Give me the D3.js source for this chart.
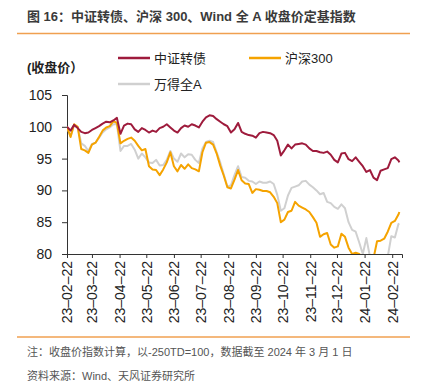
<!DOCTYPE html>
<html>
<head>
<meta charset="utf-8">
<script src="https://cdn.jsdelivr.net/npm/d3@7"></script>
<style>
  body { margin: 0; background: #fff; }
  svg { display: block; font-family: "Liberation Sans", Arial, "Noto Sans CJK SC", sans-serif; }
</style>
</head>
<body>
<svg id="chart" width="427" height="384"></svg>
<script>
// sample dates (every 4 days)
const dates = [
  "2023-02-22","2023-02-26","2023-03-02","2023-03-06","2023-03-10","2023-03-14","2023-03-18","2023-03-22",
  "2023-03-26","2023-03-30","2023-04-03","2023-04-07","2023-04-11","2023-04-15","2023-04-19","2023-04-23",
  "2023-04-27","2023-05-01","2023-05-05","2023-05-09","2023-05-13","2023-05-17","2023-05-21","2023-05-25",
  "2023-05-29","2023-06-02","2023-06-06","2023-06-10","2023-06-14","2023-06-18","2023-06-22","2023-06-26",
  "2023-06-30","2023-07-04","2023-07-08","2023-07-12","2023-07-16","2023-07-20","2023-07-24","2023-07-28",
  "2023-08-01","2023-08-05","2023-08-09","2023-08-13","2023-08-17","2023-08-21","2023-08-25","2023-08-29",
  "2023-09-02","2023-09-06","2023-09-10","2023-09-14","2023-09-18","2023-09-22","2023-09-26","2023-09-30",
  "2023-10-04","2023-10-08","2023-10-12","2023-10-16","2023-10-20","2023-10-24","2023-10-28","2023-11-01",
  "2023-11-05","2023-11-09","2023-11-13","2023-11-17","2023-11-21","2023-11-25","2023-11-29","2023-12-03",
  "2023-12-07","2023-12-11","2023-12-15","2023-12-19","2023-12-23","2023-12-27","2023-12-31","2024-01-04",
  "2024-01-08","2024-01-12","2024-01-16","2024-01-20","2024-01-24","2024-01-28","2024-02-01","2024-02-05",
  "2024-02-09","2024-02-13","2024-02-17","2024-02-21","2024-02-25","2024-02-29","2024-03-01"
];

// 中证转债
const cbIndex = [
  100.0, 99.4, 100.3, 99.8, 99.2, 99.0, 99.1, 99.5, 99.8, 100.1, 100.5, 100.8, 100.7, 101.0, 101.4, 98.9,
  100.2, 100.5, 100.4, 99.6, 99.2, 99.8, 99.5, 99.1, 99.4, 99.2, 99.8, 100.0, 100.4, 99.9, 99.4, 99.1,
  99.8, 100.2, 100.0, 100.4, 100.2, 99.9, 100.8, 101.5, 101.8, 101.7, 101.2, 100.8, 100.4, 100.1, 99.1, 99.6,
  100.6, 99.2, 98.9, 98.7, 98.6, 98.3, 99.0, 99.2, 99.1, 99.0, 98.7, 97.8, 95.5, 96.3, 97.2, 96.6,
  97.2, 97.3, 97.4, 97.2, 96.6, 96.2, 96.2, 96.0, 95.9, 96.1, 95.6, 94.8, 94.4, 95.8, 95.9, 94.9,
  94.6, 95.2, 94.5, 93.8, 92.9, 93.2, 92.0, 91.6, 93.1, 93.3, 93.5, 94.9, 95.2, 94.7, 94.4
];

// 沪深300
const hs300 = [
  100.0, 98.4, 100.4, 100.0, 96.5, 96.3, 95.9, 97.2, 97.5, 98.4, 99.4, 99.9, 100.1, 100.9, 100.6, 97.4,
  97.8, 98.1, 98.3, 97.8, 97.0, 96.3, 96.5, 93.8, 93.3, 93.2, 92.4, 93.3, 94.4, 96.0, 93.8, 93.0,
  94.0, 93.4, 94.1, 93.5, 93.3, 93.0, 96.0, 97.5, 97.6, 97.2, 95.8, 93.9, 92.3, 90.5, 90.3, 91.7,
  93.2, 91.6, 91.1, 91.0, 89.6, 90.2, 90.1, 89.9, 89.9, 89.7, 89.0, 88.0, 85.0, 85.4, 86.6, 86.8,
  88.2, 87.6, 87.3, 87.0, 86.6, 85.8, 84.9, 82.7, 83.1, 83.3, 81.5, 81.0, 81.2, 83.2, 82.7, 81.0,
  80.0, 80.2, 80.0, 79.4, 79.2, 79.0, 79.3, 82.0, 82.1, 82.4, 83.5, 84.9, 85.2, 86.2, 86.6
];

// 万得全A
const windA = [
  100.0, 98.5, 100.3, 99.9, 97.4, 97.0, 96.2, 97.3, 97.5, 98.3, 99.1, 99.6, 99.9, 100.4, 100.4, 96.2,
  97.0, 97.0, 97.3, 96.4, 95.0, 95.8, 95.2, 94.4, 94.3, 94.8, 93.9, 94.0, 94.8, 96.2, 95.0, 94.5,
  95.8, 95.2, 95.7, 95.6, 94.8, 94.3, 96.6, 97.6, 97.8, 97.6, 96.0, 94.4, 92.5, 90.6, 90.8, 92.4,
  93.8, 92.1, 92.0, 91.5, 91.4, 91.0, 91.4, 91.2, 91.2, 91.4, 91.0, 89.3, 86.8, 87.2, 89.2, 90.4,
  90.6, 90.8, 91.4, 91.5, 90.9, 90.5, 90.0, 89.4, 89.6, 88.2, 88.0, 87.4, 87.1, 87.8, 87.2, 85.0,
  83.8, 83.5, 81.8, 80.0, 82.5, 79.6, 79.4, 79.3, 79.2, 79.4, 79.6, 82.8, 82.6, 84.7, 84.8
];

const yTicks = [80, 85, 90, 95, 100, 105];
const xTickLabels = ["23-02-22","23-03-22","23-04-22","23-05-22","23-06-22","23-07-22","23-08-22",
  "23-09-22","23-10-22","23-11-22","23-12-22","24-01-22","24-02-22"];

const seriesNames = ["中证转债", "沪深300", "万得全A"];
const colors = ["#9e1b3c", "#f5a300", "#d0d0d0"];

const parse = d3.timeParse("%Y-%m-%d");
const parseTick = d3.timeParse("%y-%m-%d");

const svg = d3.select("#chart");

const plotLeft = 67, plotRight = 402, plotTop = 95, plotBottom = 254;

const x = d3.scaleTime()
  .domain([parse("2023-02-22"), parse("2024-03-04")])
  .range([plotLeft, plotRight]);

const y = d3.scaleLinear()
  .domain([80, 105])
  .range([plotBottom, plotTop]);

// title
svg.append("text")
  .attr("x", 27).attr("y", 21)
  .attr("font-size", 13).attr("font-weight", "bold").attr("fill", "#3a3a3a")
  .text("图 16：中证转债、沪深 300、Wind 全 A 收盘价定基指数");

svg.append("line")
  .attr("x1", 17).attr("x2", 410).attr("y1", 33.5).attr("y2", 33.5)
  .attr("stroke", "#f0a050").attr("stroke-width", 1.5);

// unit label
svg.append("text")
  .attr("x", 27).attr("y", 72)
  .attr("font-size", 13).attr("font-weight", "bold").attr("fill", "#222")
  .text("(收盘价）");

// legend
const legendPos = [[118, 58], [249, 58], [118, 84]];
seriesNames.forEach((name, i) => {
  const [lx, ly] = legendPos[i];
  svg.append("line")
    .attr("x1", lx).attr("x2", lx + 32).attr("y1", ly).attr("y2", ly)
    .attr("stroke", colors[i]).attr("stroke-width", 2.5);
  svg.append("text")
    .attr("x", lx + 36).attr("y", ly + 4.5)
    .attr("font-size", 13).attr("fill", "#222")
    .text(name);
});

// axes
const yAxis = svg.append("g")
  .attr("transform", `translate(${plotLeft},0)`)
  .call(d3.axisLeft(y).tickValues(yTicks).tickSize(5).tickPadding(10));

const xAxis = svg.append("g")
  .attr("transform", `translate(0,${plotBottom})`)
  .call(d3.axisBottom(x)
    .tickValues(xTickLabels.map(parseTick))
    .tickSize(4)
    .tickFormat((d, i) => xTickLabels[i].replace(/-/g, "–")));

[yAxis, xAxis].forEach(g => {
  g.select(".domain").attr("stroke", "#333");
  g.selectAll(".tick line").attr("stroke", "#333");
  g.selectAll("text").attr("font-size", 14).attr("fill", "#222")
    .attr("font-family", "'Liberation Sans', Arial, sans-serif");
});

xAxis.selectAll(".tick text")
  .attr("transform", "rotate(-90)")
  .attr("text-anchor", "end")
  .attr("x", -7).attr("y", 0).attr("dy", "0.35em");

// lines
svg.append("clipPath").attr("id", "plot")
  .append("rect").attr("x", plotLeft).attr("y", plotTop - 10)
  .attr("width", plotRight - plotLeft + 2).attr("height", plotBottom - plotTop + 10);

const line = d3.line()
  .x((d, i) => x(parse(dates[i])))
  .y(d => y(d));

const plot = svg.append("g").attr("clip-path", "url(#plot)");
[windA, hs300, cbIndex].forEach((vals, j) => {
  const c = [colors[2], colors[1], colors[0]][j];
  plot.append("path")
    .datum(vals)
    .attr("fill", "none")
    .attr("stroke", c)
    .attr("stroke-width", 2)
    .attr("stroke-linejoin", "round")
    .attr("d", line);
});

// footer
svg.append("line")
  .attr("x1", 17).attr("x2", 410).attr("y1", 337).attr("y2", 337)
  .attr("stroke", "#f0a050").attr("stroke-width", 1.5);

svg.append("text")
  .attr("x", 27).attr("y", 356)
  .attr("font-size", 11).attr("fill", "#555")
  .text("注：收盘价指数计算，以-250TD=100，数据截至 2024 年 3 月 1 日");

svg.append("text")
  .attr("x", 27).attr("y", 380)
  .attr("font-size", 11).attr("fill", "#555")
  .text("资料来源：Wind、天风证券研究所");
</script>
</body>
</html>
